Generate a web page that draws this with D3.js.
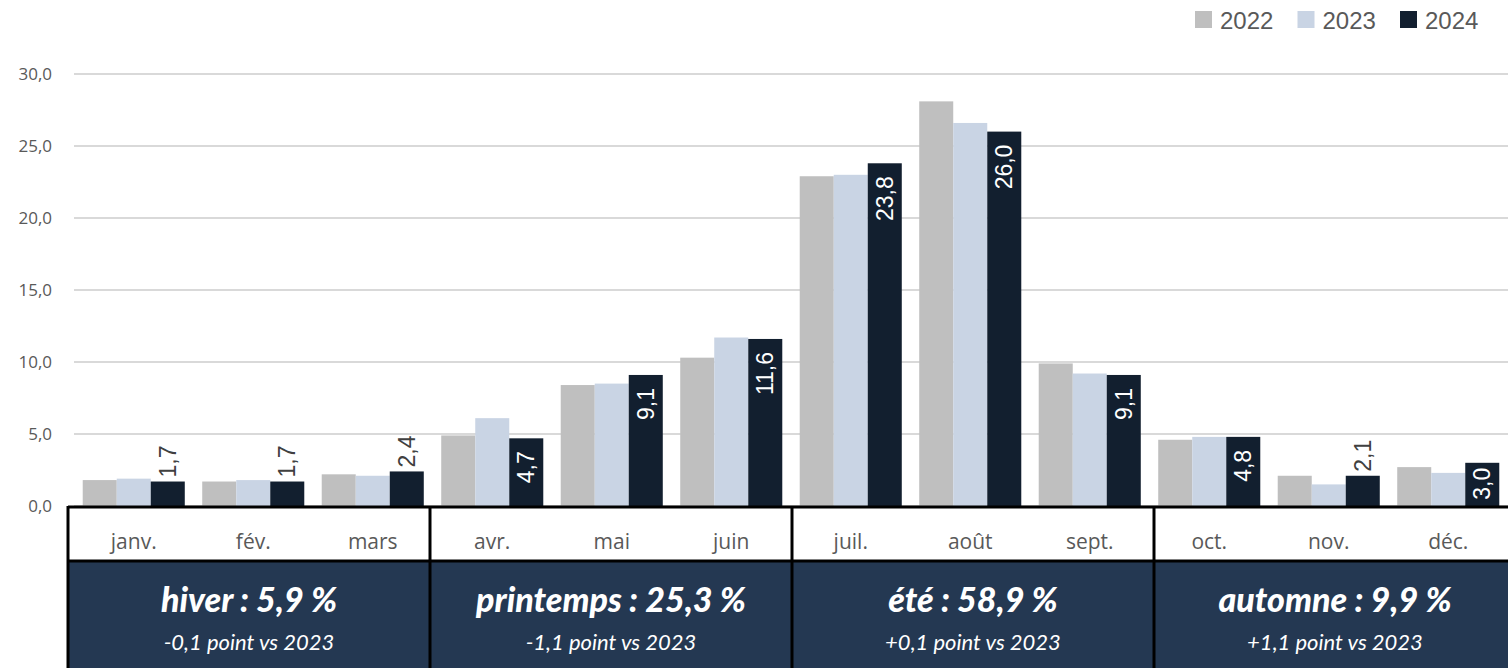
<!DOCTYPE html>
<html lang="fr">
<head>
    <meta charset="UTF-8">
    <title>Répartition mensuelle 2022-2024</title>
    <script src="https://d3js.org/d3.v7.min.js"></script>
    <style>
        body, html {
            margin: 0;
            padding: 0;
            overflow: hidden;
            background: #fff;
        }
        svg {
            display: block;
        }
        .tick-label {
            font-family: "Open Sans", sans-serif;
            font-size: 17px;
            fill: #595959;
        }
        .month-label {
            font-family: "Open Sans", sans-serif;
            font-size: 21px;
            fill: #595959;
            text-anchor: middle;
        }
        .legend-label {
            font-family: "Liberation Sans", Arial, sans-serif;
            font-size: 24px;
            fill: #595959;
        }
        .value-label {
            font-family: "Liberation Sans", Arial, sans-serif;
            font-size: 23px;
        }
        .season-title {
            font-family: Lato, sans-serif;
            font-style: italic;
            font-weight: 900;
            font-size: 34px;
            fill: #fff;
            text-anchor: middle;
        }
        .season-sub {
            font-family: Lato, sans-serif;
            font-style: italic;
            font-size: 22px;
            fill: #fff;
            text-anchor: middle;
        }
    </style>
</head>
<body>
    <svg width="1508" height="668" id="chart"></svg>

    <script>
        const months = ["janv.", "fév.", "mars", "avr.", "mai", "juin", "juil.", "août", "sept.", "oct.", "nov.", "déc."];
        const years = ["2022", "2023", "2024"];
        const values2022 = [1.8, 1.7, 2.2, 4.9, 8.4, 10.3, 22.9, 28.1, 9.9, 4.6, 2.1, 2.7];
        const values2023 = [1.9, 1.8, 2.1, 6.1, 8.5, 11.7, 23.0, 26.6, 9.2, 4.8, 1.5, 2.3];
        const values2024 = [1.7, 1.7, 2.4, 4.7, 9.1, 11.6, 23.8, 26.0, 9.1, 4.8, 2.1, 3.0];
        const yTicks = [0, 5, 10, 15, 20, 25, 30];

        const seasons = ["hiver", "printemps", "été", "automne"];
        const seasonShares = [5.9, 25.3, 58.9, 9.9];
        const seasonDeltas = [-0.1, -1.1, 0.1, 1.1];

        const colors = { "2022": "#bfbfbf", "2023": "#c9d4e4", "2024": "#121f2f" };
        const series = { "2022": values2022, "2023": values2023, "2024": values2024 };

        const fr = d3.formatLocale({ decimal: ",", thousands: " ", grouping: [3], currency: ["", " €"], minus: "-" });
        const fmt = fr.format(".1f");
        const fmtDelta = fr.format("+.1f");

        const svg = d3.select("#chart");
        const baseY = 506;

        const y = d3.scaleLinear().domain([0, 30]).range([baseY, 74]);
        const x0 = d3.scaleBand().domain(months).range([74, 1508]).paddingInner(0.146).paddingOuter(0.073);
        const x1 = d3.scaleBand().domain(years).range([0, x0.bandwidth()]);
        const xs = d3.scaleBand().domain(seasons).range([68, 1516]);

        // gridlines + y labels
        svg.append("g")
            .selectAll("line")
            .data(yTicks)
            .join("line")
            .attr("x1", 74).attr("x2", 1508)
            .attr("y1", d => y(d)).attr("y2", d => y(d))
            .attr("stroke", "#d9d9d9")
            .attr("stroke-width", 2);

        svg.append("g")
            .selectAll("text")
            .data(yTicks)
            .join("text")
            .attr("class", "tick-label")
            .attr("x", 52)
            .attr("y", d => y(d))
            .attr("dy", "0.35em")
            .attr("text-anchor", "end")
            .text(d => fmt(d));

        // bars
        const rows = months.map((m, i) => ({ month: m, vals: years.map(yr => ({ year: yr, v: series[yr][i] })) }));

        const groups = svg.append("g")
            .selectAll("g")
            .data(rows)
            .join("g")
            .attr("transform", d => `translate(${x0(d.month)},0)`);

        groups.selectAll("rect")
            .data(d => d.vals)
            .join("rect")
            .attr("x", d => x1(d.year))
            .attr("y", d => y(d.v))
            .attr("width", x1.bandwidth())
            .attr("height", d => baseY - y(d.v))
            .attr("fill", d => colors[d.year]);

        // labels for 2024 (small bars get the label above)
        groups.append("text")
            .attr("class", "value-label")
            .attr("transform", d => {
                const v = d.vals[2].v;
                const cx = x1("2024") + x1.bandwidth() / 2;
                const pad = v < 3.5 ? 5 : 13;
                return v < 2.5 ? `translate(${cx},${y(v) - 4}) rotate(-90)` : `translate(${cx},${y(v) + pad}) rotate(-90)`;
            })
            .attr("dy", "0.35em")
            .attr("text-anchor", d => d.vals[2].v < 2.5 ? "start" : "end")
            .attr("fill", d => d.vals[2].v < 2.5 ? "#404040" : "#fff")
            .text(d => fmt(d.vals[2].v));

        // table: month row
        svg.append("g")
            .selectAll("text")
            .data(months)
            .join("text")
            .attr("class", "month-label")
            .attr("x", d => x0(d) + x0.bandwidth() / 2)
            .attr("y", 549)
            .text(d => d);

        // season boxes
        svg.append("g")
            .selectAll("rect")
            .data(seasons)
            .join("rect")
            .attr("x", d => xs(d))
            .attr("y", 561)
            .attr("width", xs.bandwidth())
            .attr("height", 120)
            .attr("fill", "#243852");

        svg.append("g")
            .selectAll("text")
            .data(seasons)
            .join("text")
            .attr("class", "season-title")
            .attr("x", d => xs(d) + xs.bandwidth() / 2)
            .attr("y", 612)
            .text((d, i) => `${d} : ${fmt(seasonShares[i])} %`);

        svg.append("g")
            .selectAll("text")
            .data(seasons)
            .join("text")
            .attr("class", "season-sub")
            .attr("x", d => xs(d) + xs.bandwidth() / 2)
            .attr("y", 650)
            .text((d, i) => `${fmtDelta(seasonDeltas[i])} point vs 2023`);

        // table borders
        const borders = svg.append("g").attr("stroke", "#000").attr("stroke-width", 3);
        borders.append("line").attr("x1", 68).attr("x2", 1516).attr("y1", baseY + 1).attr("y2", baseY + 1);
        borders.append("line").attr("x1", 68).attr("x2", 1516).attr("y1", 561).attr("y2", 561);
        borders.selectAll(".sep")
            .data(seasons)
            .join("line")
            .attr("class", "sep")
            .attr("x1", d => xs(d)).attr("x2", d => xs(d))
            .attr("y1", baseY).attr("y2", 668);

        // legend
        const legend = svg.append("g")
            .selectAll("g")
            .data(years)
            .join("g")
            .attr("transform", (d, i) => `translate(${1195 + i * 102.5},11)`);

        legend.append("rect")
            .attr("width", 17).attr("height", 17)
            .attr("fill", d => colors[d]);

        legend.append("text")
            .attr("class", "legend-label")
            .attr("x", 25)
            .attr("y", 9)
            .attr("dy", "0.36em")
            .text(d => d);
    </script>
</body>
</html>
